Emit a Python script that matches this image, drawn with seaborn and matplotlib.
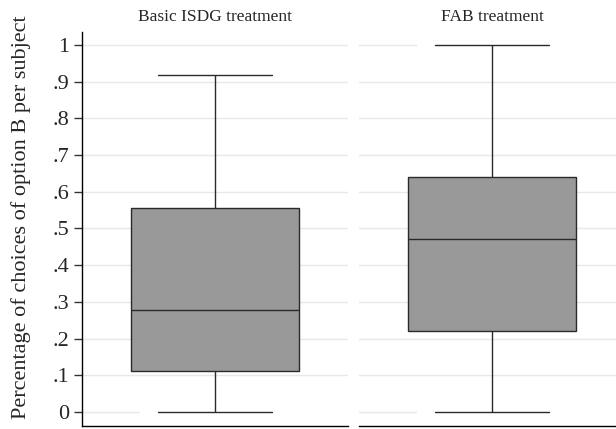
import numpy as np
import pandas as pd
import seaborn as sns
import matplotlib.pyplot as plt

panels = ["Basic ISDG treatment", "FAB treatment"]
basic_vals = [0.0, 0.111, 0.278, 0.556, 0.917]
fab_vals = [0.0, 0.222, 0.472, 0.639, 1.0]
yticks = [0, .1, .2, .3, .4, .5, .6, .7, .8, .9, 1]
ytick_labels = ["0", ".1", ".2", ".3", ".4", ".5", ".6", ".7", ".8", ".9", "1"]

df = pd.DataFrame({
    "panel": [panels[0]] * len(basic_vals) + [panels[1]] * len(fab_vals),
    "share": basic_vals + fab_vals,
})

sns.set_theme(style="white")
plt.rcParams["font.family"] = ["Liberation Serif", "DejaVu Serif"]

fig = plt.figure(figsize=(6.16, 4.29), dpi=100)
ax1 = fig.add_axes([82 / 616, 3 / 429, 266 / 616, 394 / 429])
ax2 = fig.add_axes([359 / 616, 3 / 429, 266 / 616, 394 / 429])

for ax, name in zip([ax1, ax2], panels):
    sub = df[df["panel"] == name]
    ax.set_axisbelow(True)
    for t in yticks:
        ax.axhline(t, color="#e8e8e8", lw=1.0, zorder=0)
    sns.boxplot(data=sub, y="share", ax=ax, color="#999999", width=0.63,
                linecolor="#2a2a2a", linewidth=1.0, saturation=1, whis=1.5,
                showfliers=False)
    # stata-like caps
    for ln in ax.lines:
        xd = ln.get_xdata()
        if len(xd) == 2 and xd[0] != xd[1] and ln.get_ydata()[0] in (min(sub["share"]), max(sub["share"])):
            ln.set_xdata([-0.63 * 0.34, 0.63 * 0.34])
    ax.set_xlim(-0.5, 0.5)
    ax.set_ylim(-0.038, 1.035)
    ax.set_xlabel("")
    ax.set_xticks([])
    ax.set_title(name, fontsize=12.5, pad=8)
    for s in ["top", "right"]:
        ax.spines[s].set_visible(False)
    ax.spines["bottom"].set_color("black")
    ax.spines["bottom"].set_linewidth(1.0)

ax1.set_yticks(yticks)
ax1.set_yticklabels(ytick_labels, fontsize=16)
ax1.tick_params(axis="y", left=True, length=6, width=1, color="#333333", pad=3)
ax1.spines["left"].set_color("black")
ax1.spines["left"].set_linewidth(1.0)
ax1.set_ylabel("Percentage of choices of option B per subject", fontsize=16)
ax1.yaxis.set_label_coords(-0.19, 0.53)

ax2.set_yticks([])
ax2.set_ylabel("")
ax2.spines["left"].set_visible(False)

fig.savefig("out.png", dpi=100)
